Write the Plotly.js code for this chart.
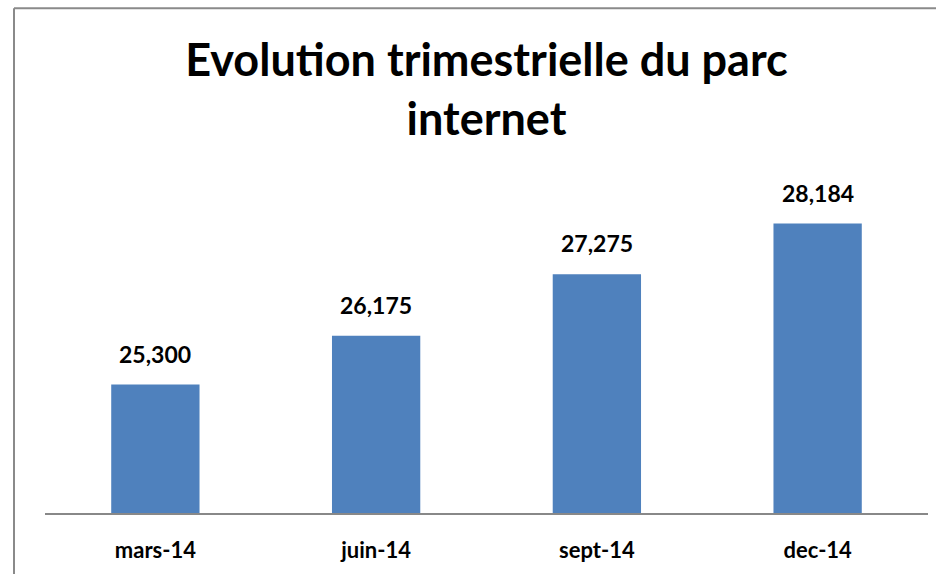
<!DOCTYPE html>
<html>
<head>
<meta charset="utf-8">
<script src="https://cdn.plot.ly/plotly-3.0.1.min.js"></script>
<style>
  html, body { margin: 0; padding: 0; background: #ffffff; }
  #chart { width: 936px; height: 574px; }
</style>
</head>
<body>
<div id="chart"></div>
<script>
const categories = ["mars-14", "juin-14", "sept-14", "dec-14"];
const values = [25300, 26175, 27275, 28184];
const valueLabels = ["25,300", "26,175", "27,275", "28,184"];
const titleText = "Evolution trimestrielle du parc<br>internet";

const FONT = "Lato, 'Open Sans', sans-serif";

const trace = {
  type: "bar",
  x: categories,
  y: values,
  marker: { color: "#4F81BD", line: { width: 0 } },
  hoverinfo: "skip"
};

const annotations = categories.map((c, i) => ({
  x: c,
  y: values[i],
  xref: "x",
  yref: "y",
  text: valueLabels[i],
  showarrow: false,
  yanchor: "bottom",
  yshift: 15,
  font: { family: FONT, size: 23, color: "#000000", weight: 700 }
}));

const layout = {
  width: 936,
  height: 574,
  margin: { l: 45, r: 8, t: 178, b: 61 },
  paper_bgcolor: "#ffffff",
  plot_bgcolor: "#ffffff",
  showlegend: false,
  bargap: 0.6,
  title: {
    text: titleText,
    font: { family: FONT, size: 45, color: "#000000", weight: 700 },
    x: 0.5,
    xref: "paper",
    xanchor: "center",
    y: 1 - 76 / 574,
    yref: "container",
    yanchor: "top"
  },
  xaxis: {
    type: "category",
    showgrid: false,
    showline: true,
    linecolor: "#888888",
    linewidth: 2,
    ticks: "",
    ticklabelstandoff: 17,
    tickfont: { family: FONT, size: 22, color: "#000000", weight: 700 },
    zeroline: false
  },
  yaxis: {
    range: [23000, 29000],
    visible: false,
    showgrid: false,
    zeroline: false
  },
  annotations: annotations,
  shapes: [
    {
      type: "line", xref: "paper", yref: "paper",
      x0: -0.0351, x1: -0.0351, y0: -0.2, y1: 1.507,
      line: { color: "#8a8a8a", width: 2 }
    },
    {
      type: "line", xref: "paper", yref: "paper",
      x0: -0.0351, x1: 1.05, y0: 1.507, y1: 1.507,
      line: { color: "#8a8a8a", width: 2 }
    }
  ]
};

Plotly.newPlot("chart", [trace], layout, { displayModeBar: false, staticPlot: true });
</script>
</body>
</html>
